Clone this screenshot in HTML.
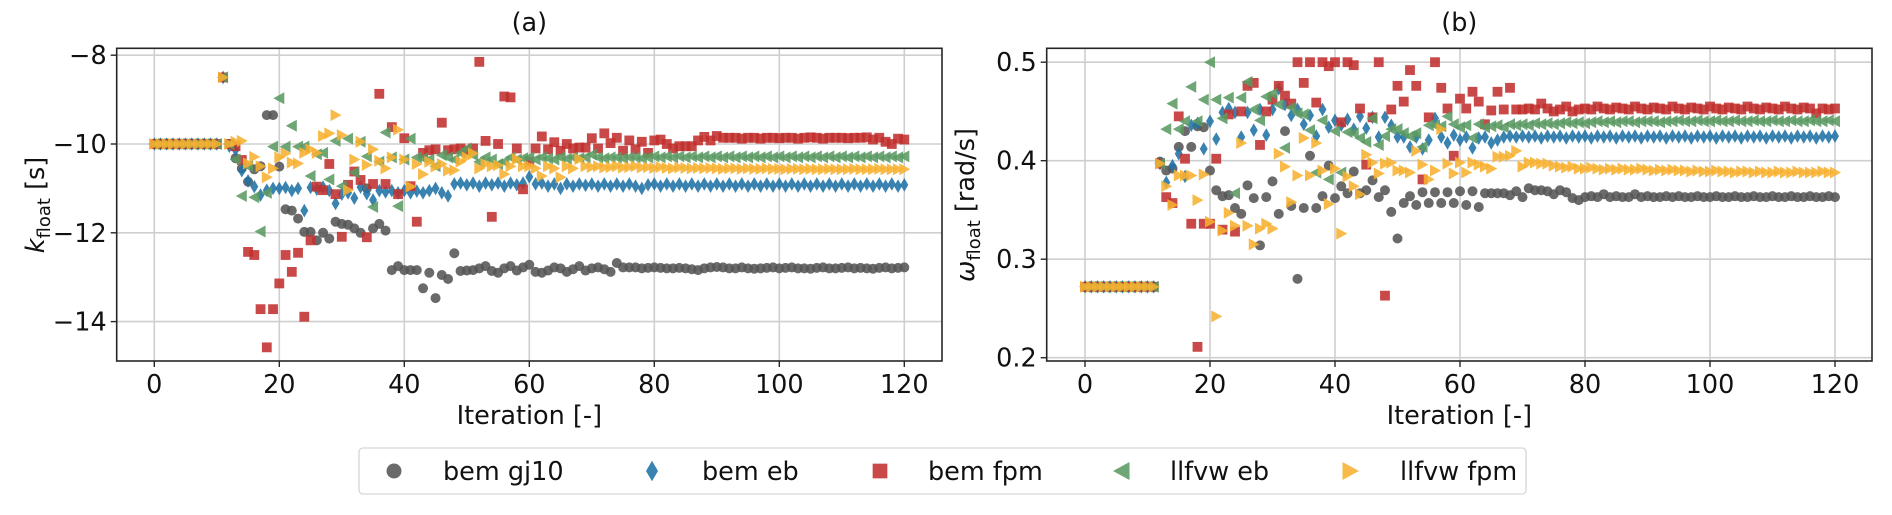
<!DOCTYPE html>
<html><head><meta charset="utf-8">
<style>
html,body{margin:0;padding:0;background:#fff;}
svg{display:block;font-family:"DejaVu Sans","Liberation Sans",sans-serif;}
</style></head>
<body>
<svg id="chart" width="1892" height="515" viewBox="0 0 1892 515" xmlns="http://www.w3.org/2000/svg"></svg>
<script>
const iterations = Array.from({length:121},(_,i)=>i);
const xTicks = [0,20,40,60,80,100,120];
const kTicks = [-8,-10,-12,-14];
const wTicks = [0.2,0.3,0.4,0.5];
const seriesNames = ["bem gj10","bem eb","bem fpm","llfvw eb","llfvw fpm"];

const kGj10 = [-10,-10,-10,-10,-10,-10,-10,-10,-10,-10,-10,-8.5,
-10.0,-10.32,-10.55,-10.85,-10.57,-10.5,-9.35,-9.35,
-10.51,-11.47,-11.5,-11.68,-11.98,-11.98,-12.17,-12.0,-12.13,-11.75,
-11.8,-11.82,-11.9,-12.0,-11.0,-11.9,-11.8,-11.95,-12.84,-12.75,
-12.84,-12.84,-12.84,-13.25,-12.9,-13.47,-12.95,-13.04,-12.46,-12.86,
-12.85,-12.84,-12.8,-12.75,-12.86,-12.9,-12.8,-12.75,-12.85,-12.78,
-12.72,-12.88,-12.9,-12.85,-12.78,-12.8,-12.88,-12.82,-12.75,-12.85,
-12.8,-12.78,-12.82,-12.88,-12.68,-12.78,-12.78,-12.78,-12.8,-12.79,
-12.78,-12.79,-12.8,-12.8,-12.79,-12.8,-12.82,-12.84,-12.8,-12.78,
-12.77,-12.78,-12.8,-12.8,-12.78,-12.8,-12.81,-12.8,-12.79,-12.78,
-12.8,-12.79,-12.78,-12.8,-12.8,-12.81,-12.79,-12.78,-12.8,-12.8,
-12.79,-12.78,-12.8,-12.79,-12.8,-12.81,-12.79,-12.78,-12.8,-12.79,-12.78];
const kEb = [-10,-10,-10,-10,-10,-10,-10,-10,-10,-10,-10,-8.5,
-10.05,-10.13,-10.6,-10.83,-10.96,-11.15,-11.04,-11.0,
-11.0,-10.98,-11.05,-11.0,-11.5,-10.98,-11.02,-10.97,-11.05,-11.34,
-11.13,-11.1,-11.22,-10.97,-11.12,-11.26,-11.05,-11.08,-11.05,-11.1,
-11.05,-11.1,-11.06,-11.1,-11.05,-11.0,-11.1,-11.17,-10.9,-10.88,
-10.92,-10.88,-10.95,-10.88,-10.92,-10.88,-10.95,-10.88,-10.92,-10.88,
-10.74,-10.9,-10.88,-10.95,-10.9,-11.0,-10.9,-10.95,-10.9,-10.93,
-10.9,-10.95,-10.9,-10.95,-10.9,-10.95,-10.9,-10.95,-11.0,-10.92,
-10.9,-10.95,-10.9,-10.95,-10.9,-10.95,-10.9,-10.95,-10.9,-10.95,
-10.9,-10.95,-10.9,-10.95,-10.9,-10.95,-10.9,-10.95,-10.9,-10.95,
-10.9,-10.95,-10.9,-10.95,-10.9,-10.95,-10.9,-10.95,-10.9,-10.95,
-10.9,-10.95,-10.9,-10.95,-10.9,-10.95,-10.9,-10.95,-10.9,-10.95,-10.92];
const kFpm = [-10,-10,-10,-10,-10,-10,-10,-10,-10,-10,-10,-8.5,
-10.0,-10.05,-10.36,-12.43,-12.5,-13.72,-14.58,-13.72,
-13.14,-12.5,-12.88,-12.45,-13.89,-12.17,-10.96,-11.04,-10.45,-11.13,
-12.09,-10.92,-10.62,-10.81,-12.1,-10.9,-8.87,-10.9,-9.62,-11.13,
-9.87,-10.95,-11.75,-10.2,-10.14,-10.12,-9.52,-10.14,-10.12,-10.1,
-10.15,-10.1,-8.15,-9.93,-11.64,-10.0,-8.93,-8.95,-10.1,-11.02,
-10.4,-10.1,-9.83,-10.12,-9.96,-10.15,-10.0,-10.1,-10.08,-10.08,
-9.87,-10.1,-9.76,-9.98,-9.86,-10.15,-9.92,-10.12,-9.95,-10.2,
-9.92,-9.9,-10.0,-10.1,-10.05,-10.05,-10.05,-9.92,-9.84,-9.92,
-9.82,-9.86,-9.86,-9.86,-9.88,-9.86,-9.86,-9.88,-9.86,-9.86,
-9.87,-9.86,-9.86,-9.88,-9.86,-9.85,-9.86,-9.88,-9.86,-9.86,
-9.86,-9.87,-9.86,-9.86,-9.85,-9.9,-9.86,-9.95,-10.0,-9.88,-9.9];
const kLlEb = [-10,-10,-10,-10,-10,-10,-10,-10,-10,-10,-10,-8.5,
-10.0,-10.35,-11.17,-10.5,-11.2,-11.97,-11.1,-10.06,
-8.97,-10.06,-9.59,-10.06,-10.06,-10.72,-10.23,-10.2,-10.8,-9.93,
-10.95,-9.88,-10.64,-9.95,-10.28,-11.42,-10.4,-9.74,-10.3,-11.4,
-10.35,-9.88,-10.3,-10.32,-10.35,-10.5,-10.25,-10.3,-10.35,-10.2,
-10.1,-10.25,-10.4,-10.3,-10.35,-10.45,-10.4,-10.3,-10.35,-10.32,
-10.3,-10.35,-10.3,-10.32,-10.35,-10.3,-10.33,-10.3,-10.32,-10.3,
-10.24,-10.3,-10.32,-10.3,-10.3,-10.32,-10.3,-10.3,-10.32,-10.3,
-10.28,-10.3,-10.28,-10.3,-10.28,-10.3,-10.28,-10.3,-10.28,-10.3,
-10.28,-10.3,-10.28,-10.3,-10.28,-10.3,-10.28,-10.3,-10.28,-10.3,
-10.28,-10.3,-10.28,-10.3,-10.28,-10.3,-10.28,-10.3,-10.28,-10.3,
-10.28,-10.3,-10.28,-10.3,-10.28,-10.3,-10.28,-10.3,-10.28,-10.3,-10.28];
const kLlFpm = [-10,-10,-10,-10,-10,-10,-10,-10,-10,-10,-10,-8.5,
-10.0,-9.95,-9.93,-10.44,-10.29,-10.5,-10.75,-10.55,
-10.3,-10.21,-10.42,-10.44,-10.2,-10.12,-10.2,-9.82,-9.76,-9.35,
-9.8,-11.04,-10.35,-9.95,-10.47,-10.12,-10.38,-10.55,-10.3,-9.68,
-10.35,-10.96,-10.45,-10.68,-10.4,-10.51,-10.45,-10.6,-10.59,-10.4,
-10.3,-10.21,-10.55,-10.45,-10.5,-10.48,-10.68,-10.5,-10.34,-10.5,
-10.5,-10.55,-10.72,-10.5,-10.55,-10.75,-10.5,-10.55,-10.34,-10.5,
-10.52,-10.5,-10.53,-10.52,-10.5,-10.53,-10.52,-10.5,-10.53,-10.52,
-10.54,-10.52,-10.54,-10.55,-10.53,-10.54,-10.55,-10.54,-10.55,-10.54,
-10.55,-10.56,-10.55,-10.55,-10.56,-10.55,-10.56,-10.56,-10.55,-10.56,
-10.56,-10.57,-10.56,-10.56,-10.57,-10.56,-10.57,-10.57,-10.56,-10.57,
-10.57,-10.57,-10.56,-10.57,-10.57,-10.57,-10.56,-10.57,-10.57,-10.57,-10.57];

const wGj10 = [0.272,0.272,0.272,0.272,0.272,0.272,0.272,0.272,0.272,0.272,0.272,0.272,
0.399,0.39,0.392,0.414,0.43,0.414,0.435,0.434,
0.39,0.37,0.364,0.365,0.352,0.346,0.375,0.362,0.314,0.363,
0.379,0.346,0.43,0.354,0.28,0.352,0.405,0.352,0.364,0.395,
0.362,0.374,0.367,0.389,0.367,0.37,0.38,0.363,0.37,0.348,
0.321,0.357,0.364,0.355,0.368,0.357,0.368,0.357,0.368,0.357,
0.369,0.355,0.369,0.353,0.367,0.367,0.367,0.367,0.365,0.369,
0.363,0.372,0.37,0.37,0.369,0.366,0.37,0.368,0.362,0.36,
0.363,0.364,0.363,0.366,0.363,0.364,0.363,0.363,0.366,0.363,
0.364,0.363,0.363,0.364,0.363,0.364,0.363,0.363,0.364,0.363,
0.363,0.364,0.363,0.363,0.364,0.363,0.363,0.364,0.363,0.363,
0.364,0.363,0.363,0.364,0.363,0.363,0.364,0.363,0.363,0.364,0.363];
const wEb = [0.272,0.272,0.272,0.272,0.272,0.272,0.272,0.272,0.272,0.272,0.272,0.272,
0.397,0.378,0.395,0.407,0.384,0.436,0.438,0.412,
0.44,0.422,0.449,0.453,0.449,0.424,0.449,0.431,0.452,0.426,
0.452,0.473,0.457,0.446,0.452,0.437,0.446,0.425,0.452,0.434,
0.441,0.436,0.442,0.432,0.445,0.433,0.444,0.424,0.444,0.436,
0.424,0.424,0.414,0.424,0.412,0.421,0.443,0.424,0.418,0.426,
0.421,0.424,0.413,0.423,0.424,0.418,0.421,0.424,0.425,0.424,
0.425,0.424,0.425,0.423,0.425,0.424,0.425,0.423,0.425,0.424,
0.425,0.423,0.425,0.424,0.425,0.423,0.425,0.424,0.425,0.423,
0.425,0.424,0.425,0.423,0.425,0.424,0.425,0.423,0.425,0.424,
0.425,0.423,0.425,0.424,0.425,0.423,0.425,0.424,0.425,0.423,
0.425,0.424,0.425,0.423,0.425,0.424,0.425,0.423,0.425,0.424,0.425];
const wFpm = [0.272,0.272,0.272,0.272,0.272,0.272,0.272,0.272,0.272,0.272,0.272,0.272,
0.397,0.363,0.357,0.445,0.402,0.336,0.211,0.336,
0.336,0.402,0.33,0.447,0.328,0.45,0.476,0.479,0.416,0.45,
0.462,0.476,0.466,0.458,0.5,0.479,0.5,0.459,0.5,0.496,
0.5,0.439,0.5,0.497,0.453,0.396,0.444,0.5,0.263,0.452,
0.476,0.46,0.492,0.476,0.381,0.444,0.5,0.474,0.453,0.405,
0.463,0.453,0.47,0.46,0.437,0.451,0.47,0.452,0.474,0.452,
0.452,0.453,0.452,0.458,0.453,0.45,0.452,0.455,0.45,0.452,
0.453,0.452,0.455,0.453,0.452,0.454,0.453,0.452,0.455,0.453,
0.452,0.454,0.453,0.452,0.455,0.453,0.452,0.454,0.453,0.452,
0.455,0.453,0.452,0.454,0.453,0.452,0.455,0.453,0.452,0.454,
0.453,0.452,0.455,0.453,0.452,0.454,0.453,0.448,0.453,0.452,0.453];
const wLlEb = [0.272,0.272,0.272,0.272,0.272,0.272,0.272,0.272,0.272,0.272,0.272,0.272,
0.397,0.432,0.458,0.432,0.44,0.475,0.44,0.462,
0.5,0.462,0.443,0.464,0.367,0.464,0.48,0.452,0.441,0.465,
0.468,0.457,0.413,0.454,0.448,0.447,0.431,0.388,0.441,0.381,
0.43,0.388,0.429,0.428,0.423,0.419,0.443,0.416,0.425,0.432,
0.432,0.428,0.425,0.428,0.414,0.436,0.436,0.435,0.445,0.437,
0.434,0.436,0.423,0.437,0.434,0.435,0.436,0.434,0.437,0.436,
0.437,0.436,0.438,0.437,0.438,0.437,0.438,0.439,0.438,0.439,
0.438,0.439,0.44,0.439,0.44,0.439,0.44,0.44,0.439,0.44,
0.44,0.44,0.439,0.44,0.44,0.441,0.44,0.44,0.441,0.44,
0.44,0.441,0.44,0.44,0.441,0.44,0.44,0.441,0.44,0.44,
0.441,0.44,0.44,0.441,0.44,0.44,0.441,0.44,0.44,0.441,0.44];
const wLlFpm = [0.272,0.272,0.272,0.272,0.272,0.272,0.272,0.272,0.272,0.272,0.272,0.272,
0.397,0.374,0.355,0.385,0.385,0.385,0.36,0.386,
0.338,0.242,0.329,0.347,0.334,0.418,0.334,0.315,0.331,0.336,
0.331,0.407,0.394,0.358,0.385,0.423,0.385,0.418,0.39,0.356,
0.392,0.326,0.384,0.374,0.366,0.406,0.398,0.387,0.397,0.398,
0.39,0.39,0.388,0.41,0.396,0.381,0.39,0.432,0.397,0.387,
0.398,0.388,0.398,0.396,0.394,0.392,0.404,0.404,0.405,0.41,
0.394,0.398,0.398,0.397,0.397,0.395,0.394,0.393,0.394,0.392,
0.392,0.393,0.392,0.391,0.392,0.391,0.392,0.391,0.391,0.392,
0.391,0.39,0.391,0.39,0.391,0.39,0.39,0.389,0.39,0.389,
0.389,0.39,0.389,0.389,0.388,0.389,0.389,0.388,0.389,0.388,
0.388,0.389,0.388,0.388,0.389,0.388,0.388,0.388,0.389,0.388,0.388];

const NS="http://www.w3.org/2000/svg";
const svg=document.getElementById('chart');
function mk(tag,attrs,parent){const e=document.createElementNS(NS,tag);for(const k in attrs)e.setAttribute(k,attrs[k]);(parent||svg).appendChild(e);return e;}

const colors=["#555555","#1f72a6","#c0302e","#5a9a62","#f7b030"];
const shapes=["circle","diamond","square","tleft","tright"];

function marker(shape,cx,cy,color,parent,s){
  s=s||1;
  let e;
  if(shape==="circle") e=mk('circle',{cx:cx,cy:cy,r:5.0*s,fill:color},parent);
  else if(shape==="square") e=mk('rect',{x:cx-4.9*s,y:cy-4.9*s,width:9.8*s,height:9.8*s,fill:color},parent);
  else if(shape==="diamond") e=mk('polygon',{points:`${cx},${cy-6.8*s} ${cx+4*s},${cy} ${cx},${cy+6.8*s} ${cx-4*s},${cy}`,fill:color},parent);
  else if(shape==="tleft") e=mk('polygon',{points:`${cx-6*s},${cy} ${cx+5*s},${cy-6*s} ${cx+5*s},${cy+6*s}`,fill:color},parent);
  else e=mk('polygon',{points:`${cx+6*s},${cy} ${cx-5*s},${cy-6*s} ${cx-5*s},${cy+6*s}`,fill:color},parent);
  e.setAttribute('fill-opacity','0.88');
  return e;
}

function panel(opt){
  const g=mk('g',{});
  
  
  const xs=v=>opt.x0+(v-0)*opt.xs;
  const ys=v=>opt.yRef-(v-opt.vRef)*opt.yk;
  xTicks.forEach(t=>{
    const l=mk('line',{x1:xs(t),x2:xs(t),y1:opt.top,y2:opt.bottom,stroke:'#cfcfcf','stroke-width':1.6},g);
    
    
  });
  opt.yTicks.forEach(t=>{
    const l=mk('line',{x1:opt.left,x2:opt.right,y1:ys(t),y2:ys(t),stroke:'#cfcfcf','stroke-width':1.6},g);
    
    
  });
  opt.series.forEach((arr,si)=>{
    const sg=mk('g',{},g);
    
    
    arr.forEach((v,i)=>{
      if(i>=iterations.length) return;
      const m=marker(shapes[si],xs(iterations[i]),ys(v),colors[si],sg);
      
      
    });
  });
  const fr=mk('rect',{x:opt.left,y:opt.top,width:opt.right-opt.left,height:opt.bottom-opt.top,fill:'none',stroke:'#262626','stroke-width':1.6},g);
  
  
  xTicks.forEach(t=>{
    mk('line',{x1:xs(t),x2:xs(t),y1:opt.bottom,y2:opt.bottom+6,stroke:'#262626','stroke-width':1.4},g);
    const tx=mk('text',{x:xs(t),y:opt.bottom+32,'text-anchor':'middle','font-size':25.5,fill:'#111'},g);
    tx.textContent=t;
    
    
  });
  opt.yTicks.forEach(t=>{
    mk('line',{x1:opt.left-6,x2:opt.left,y1:ys(t),y2:ys(t),stroke:'#262626','stroke-width':1.4},g);
    const tx=mk('text',{x:opt.left-10,y:ys(t)+9,'text-anchor':'end','font-size':25.5,fill:'#111'},g);
    tx.textContent=opt.fmt(t);
    
    
  });
  const xl=mk('text',{x:(opt.left+opt.right)/2,y:424,'text-anchor':'middle','font-size':25.5,fill:'#111'},g);
  xl.textContent='Iteration [-]';
  
  
  const ti=mk('text',{x:(opt.left+opt.right)/2,y:31,'text-anchor':'middle','font-size':25.5,fill:'#111'},g);
  ti.textContent=opt.title;
  
  
  const yl=mk('text',{x:0,y:0,'text-anchor':'middle','font-size':25.5,fill:'#111',transform:`translate(${opt.ylx},205) rotate(-90)`},g);
  yl.innerHTML=opt.ylabel;
  
  
}

panel({name:'panel-a-k-float',left:116.7,right:942,top:48.3,bottom:361,x0:154.3,xs:6.25,
  yRef:144,vRef:-10,yk:44.4,yTicks:kTicks,fmt:t=>String(t).replace('-','\u2212'),
  series:[kGj10,kEb,kFpm,kLlEb,kLlFpm],title:'(a)',ylx:44,
  ylabel:'<tspan font-style="italic">k</tspan><tspan font-size="18" dy="6">float</tspan><tspan dy="-6"> [s]</tspan>'});
panel({name:'panel-b-omega-float',left:1046.7,right:1872,top:48.3,bottom:361,x0:1085,xs:6.25,
  yRef:160.7,vRef:0.4,yk:985,yTicks:wTicks,fmt:t=>t.toFixed(1),
  series:[wGj10,wEb,wFpm,wLlEb,wLlFpm],title:'(b)',ylx:974,
  ylabel:'<tspan font-style="italic">\u03c9</tspan><tspan font-size="18" dy="6">float</tspan><tspan dy="-6"> [rad/s]</tspan>'});

const lg=mk('g',{});


const lb=mk('rect',{x:359,y:448,width:1167,height:46,rx:4,fill:'#fff',stroke:'#d6d6d6','stroke-width':1.3},lg);


const legMarkX=[394,652,880,1122,1350];
const legTextX=[443,702,928,1170,1400];
seriesNames.forEach((n,i)=>{
  const eg=mk('g',{},lg);
  
  
  marker(shapes[i],legMarkX[i],471,colors[i],eg,1.5);
  const t=mk('text',{x:legTextX[i],y:480,'font-size':25.5,fill:'#111'},eg);
  t.textContent=n;
  
  
});
</script>
</body></html>
